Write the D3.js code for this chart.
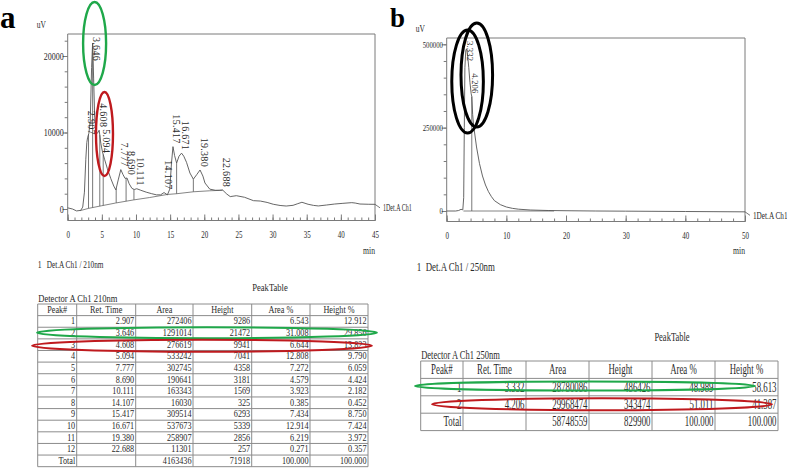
<!DOCTYPE html>
<html>
<head>
<meta charset="utf-8">
<script src="https://cdn.jsdelivr.net/npm/d3@7"></script>
<style>
  body { margin: 0; background: #fff; }
  svg { display: block; background: #fff; }
  text { font-family: "Liberation Serif", "Times New Roman", serif; fill: #2a2a2a; }
</style>
</head>
<body>
<svg id="fig" width="787" height="469"></svg>
<script>
// ---------- panel a : Det.A Ch1 / 210nm ----------
// chromatogram, [min, uV]
const traceA = [
  [0, 150], [0.7, 0], [1.3, -250], [1.9, -180], [2.2, 250], [2.45, 2200], [2.65, 6500],
  [2.8, 8700], [2.907, 9300], [3.1, 9900], [3.3, 11500], [3.5, 18500], [3.646, 21700],
  [3.8, 17000], [3.95, 12000], [4.15, 10000], [4.35, 9900], [4.608, 10300], [4.85, 8600],
  [5.094, 7450], [5.4, 6500], [5.8, 5300], [6.3, 4000], [6.75, 3000], [7.05, 2500],
  [7.4, 3800], [7.777, 5150], [8.1, 4500], [8.4, 4000], [8.69, 4050], [9.0, 3300],
  [9.4, 2700], [9.75, 2550], [10.111, 2650], [10.7, 2450], [11.5, 2200], [12.3, 2000],
  [13.0, 1850], [13.6, 1850], [14.107, 2150], [14.6, 1850], [14.95, 2600], [15.2, 6000],
  [15.417, 8150], [15.65, 7000], [15.95, 6000], [16.3, 6900], [16.671, 7300], [17.0, 6900],
  [17.4, 6100], [17.9, 4700], [18.4, 3900], [18.9, 4500], [19.38, 5100], [19.8, 4300],
  [20.1, 3400], [20.8, 2600], [21.6, 2450], [22.2, 2450], [22.688, 2480], [23.3, 1950],
  [23.8, 1620], [24.7, 1740], [25.9, 1530], [27.2, 1090], [28.2, 1040], [29.2, 860],
  [30.1, 620], [31.1, 460], [32.0, 390], [33.0, 480], [33.7, 700], [34.3, 880], [35.2, 620],
  [36.0, 470], [36.7, 400], [37.9, 520], [39.1, 650], [40.3, 740], [41.6, 830], [42.1, 780],
  [42.8, 650], [44.0, 620], [45, 610]
];
// integration baseline under the peaks
const baselineA = [
  [1.8, -220], [3.05, 80], [5, 430], [7, 780], [9.6, 1180], [12, 1500],
  [14.6, 1900], [16, 2000], [18.4, 2250], [20.8, 2380], [22.7, 2450]
];
const dropTimesA = [3.05, 3.65, 4.7, 5.2, 7.1, 8.55, 9.7, 14.6, 15.95, 18.4];
const yTicksA = [0, 10000, 20000];
const xTicksA = [0, 5, 10, 15, 20, 25, 30, 35, 40, 45];

// peak table a
const peakNoA = [1, 2, 3, 4, 5, 6, 7, 8, 9, 10, 11, 12];
const retTimeA = [2.907, 3.646, 4.608, 5.094, 7.777, 8.690, 10.111, 14.107, 15.417, 16.671, 19.380, 22.688];
const areaA = [272406, 1291014, 276619, 533242, 302745, 190641, 163343, 16030, 309514, 537673, 258907, 11301];
const heightA = [9286, 21472, 9941, 7041, 4358, 3181, 1569, 325, 6293, 5339, 2856, 257];
const areaPctA = [6.543, 31.008, 6.644, 12.808, 7.272, 4.579, 3.923, 0.385, 7.434, 12.914, 6.219, 0.271];
const heightPctA = [12.912, 29.856, 13.823, 9.790, 6.059, 4.424, 2.182, 0.452, 8.750, 7.424, 3.972, 0.357];
const totalAreaA = 4163436, totalHeightA = 71918;

// ---------- panel b : Det.A Ch1 / 250nm ----------
const traceB = [
  [0, 0], [1.5, 0], [2.0, 1500], [2.4, 5000], [2.7, 3500], [2.85, 40000], [2.95, 250000],
  [3.05, 430000], [3.2, 482000], [3.332, 486426], [3.5, 468000], [3.7, 430000], [3.9, 385000],
  [4.1, 352000], [4.206, 343474], [4.35, 290000], [4.5, 258000], [5.0, 192000], [5.5, 142000],
  [6.0, 105000], [6.5, 78000], [7.0, 58000], [7.5, 43000], [8.0, 31000], [9.0, 19000],
  [10.0, 12000], [11.0, 8000], [12.0, 5500], [14.0, 3000], [17.0, 1500], [20.0, 800],
  [25.0, 0], [30.0, -500], [40.0, -1500], [50.0, -2500]
];
const baselineB = [[2.8, 0], [18, 0]];
const dropTimesB = [4.206];
const yTicksB = [0, 250000, 500000];
const xTicksB = [0, 10, 20, 30, 40, 50];

// peak table b
const peakNoB = [1, 2];
const retTimeB = [3.332, 4.206];
const areaB = [28780086, 29968474];
const heightB = [486426, 343474];
const areaPctB = [48.989, 51.011];
const heightPctB = [58.613, 41.387];
const totalAreaB = 58748559, totalHeightB = 829900;

const header = ["Peak#", "Ret. Time", "Area", "Height", "Area %", "Height %"];

const svg = d3.select("#fig");
const f3 = d3.format(".3f");
const GRAY = "#7a7a7a";

function valueAt(series, t) {
  const i = d3.bisector(d => d[0]).left(series, t);
  if (i <= 0) return series[0][1];
  if (i >= series.length) return series[series.length - 1][1];
  const a = series[i - 1], b = series[i];
  return a[1] + (b[1] - a[1]) * (t - a[0]) / (b[0] - a[0]);
}

// horizontally squeezed serif text, like the instrument printout
function ctext(g, x, y, str, size, sx, anchor) {
  return g.append("text")
      .attr("transform", "translate(" + x + "," + y + ") scale(" + sx + ",1)")
      .attr("text-anchor", anchor || "start")
      .style("font-size", size + "px")
      .text(str);
}

function drawChrom(cfg) {
  const g = svg.append("g");
  const x = d3.scaleLinear().domain([0, cfg.xMax]).range([cfg.left, cfg.right]);
  const y = d3.scaleLinear().domain([0, cfg.yRefVal]).range([cfg.yZero, cfg.yRefPx]);

  // frame
  g.append("path")
      .attr("d", "M" + cfg.left + "," + cfg.axisY + "V" + cfg.top + "H" + cfg.right + "V" + cfg.axisY + "H" + cfg.left)
      .style("fill", "none")
      .style("stroke", GRAY)
      .style("stroke-width", 1);

  // y axis
  const yMax = y.invert(cfg.top);
  const ya = g.append("g").attr("transform", "translate(" + cfg.left + ",0)")
      .call(d3.axisLeft(y).tickValues(cfg.yTicks).tickSize(5).tickPadding(0).tickFormat(d3.format("d")));
  g.append("g").attr("transform", "translate(" + cfg.left + ",0)")
      .call(d3.axisLeft(y).tickValues(d3.range(0, yMax, cfg.yMinor)).tickSize(3).tickFormat(""));

  // x axis, ticks pointing inward
  const xa = g.append("g").attr("transform", "translate(0," + cfg.axisY + ")")
      .call(d3.axisBottom(x).tickValues(cfg.xTicks).tickSizeInner(-6).tickSizeOuter(0).tickPadding(10));
  g.append("g").attr("transform", "translate(0," + cfg.axisY + ")")
      .call(d3.axisBottom(x).tickValues(d3.range(0, cfg.xMax + 0.01, cfg.xMinor)).tickSizeInner(-3).tickSizeOuter(0).tickFormat(""));

  g.selectAll(".domain").remove();
  g.selectAll(".tick line").style("stroke", GRAY);
  g.selectAll("g").attr("font-size", null).attr("font-family", null);
  ya.selectAll("text").attr("transform", "scale(" + cfg.yLabelSx + ",1)").style("font-size", cfg.tickSize + "px");
  xa.selectAll("text").attr("transform", "scale(0.7,1)").style("font-size", "10px");

  // trace and integration baseline
  const line = d3.line().x(d => x(d[0])).y(d => y(d[1]));
  g.append("path").datum(cfg.baseline).attr("d", line)
      .style("fill", "none").style("stroke", "#666").style("stroke-width", 0.8);
  g.append("path").datum(cfg.trace).attr("d", line)
      .style("fill", "none").style("stroke", "#555").style("stroke-width", 0.9);

  // drop lines
  cfg.drops.forEach(function(t) {
    g.append("line")
        .attr("x1", x(t)).attr("x2", x(t))
        .attr("y1", y(valueAt(cfg.baseline, t))).attr("y2", y(valueAt(cfg.trace, t)))
        .style("stroke", "#555").style("stroke-width", 0.8);
  });

  // rotated retention-time labels over each apex
  let prev = null;
  cfg.peaks.forEach(function(t) {
    const px = x(t), py = y(valueAt(cfg.trace, t));
    const lab = g.append("text")
        .style("font-size", cfg.labelSize + "px")
        .style("letter-spacing", cfg.labelSpacing + "px")
        .text(f3(t));
    const len = lab.node().getComputedTextLength();
    let start = py - 3 - len;
    if (start < cfg.top + 3) start = cfg.top + 3;
    if (prev && Math.abs(px - prev.x) < 5 && start < prev.end + 2) start = prev.end + 2;
    lab.attr("transform", "translate(" + (px + 0.5) + "," + start + ") rotate(90)");
    prev = {x: px, end: start + len};
  });

  // trace leaving the frame + channel name
  const yEnd = y(cfg.trace[cfg.trace.length - 1][1]);
  g.append("line")
      .attr("x1", cfg.right).attr("y1", yEnd)
      .attr("x2", cfg.right + 5).attr("y2", yEnd + 3.5)
      .style("stroke", "#555").style("stroke-width", 0.8);
  ctext(g, cfg.right + 8, yEnd + 7, "1Det.A Ch1", cfg.chSize, cfg.chSx);

  ctext(g, cfg.left - 31, cfg.top - 6, "uV", 10, 0.75);
  ctext(g, cfg.right, 254, "min", 11, 0.7, "end");
  ctext(g, cfg.left - 30, cfg.detY, "1", cfg.detSize, 0.7);
  ctext(g, cfg.left - 21, cfg.detY, cfg.detector, cfg.detSize, cfg.detSx);

  g.append("text")
      .attr("x", cfg.letterX).attr("y", cfg.letterY)
      .style("font-size", cfg.letterSize + "px")
      .style("font-weight", "bold")
      .style("fill", "#000")
      .text(cfg.letter);

  return {x: x, y: y};
}

function drawTable(cfg) {
  const g = svg.append("g");
  const rows = [cfg.header].concat(cfg.body);
  const n = rows.length;
  const c = cfg.cols;
  const bottom = cfg.top + n * cfg.rowH;

  for (let i = 0; i <= n; i++) {
    const yy = cfg.top + i * cfg.rowH;
    g.append("line").attr("x1", c[0]).attr("x2", c[c.length - 1]).attr("y1", yy).attr("y2", yy)
        .style("stroke", "#8c8c8c").style("stroke-width", 1);
  }
  c.forEach(function(xx) {
    g.append("line").attr("x1", xx).attr("x2", xx).attr("y1", cfg.top).attr("y2", bottom)
        .style("stroke", "#8c8c8c").style("stroke-width", 1);
  });

  rows.forEach(function(r, i) {
    const yy = cfg.top + i * cfg.rowH + cfg.rowH * 0.76;
    r.forEach(function(s, j) {
      if (i === 0) ctext(g, (c[j] + c[j + 1]) / 2, yy, s, cfg.size, cfg.sx, "middle");
      else ctext(g, c[j + 1] - 1.5, yy, s, cfg.size, cfg.sx, "end");
    });
  });

  ctext(g, cfg.titleX, cfg.titleY, "PeakTable", cfg.titleSize, cfg.sx, "middle");
  ctext(g, c[0] + 0.5, cfg.top - 2.5, cfg.detector, cfg.titleSize, cfg.sx);
}

function tableRows(no, rt, area, height, ap, hp, tArea, tHeight) {
  const body = no.map(function(d, i) {
    return [String(d), f3(rt[i]), String(area[i]), String(height[i]), f3(ap[i]), f3(hp[i])];
  });
  body.push(["Total", "", String(tArea), String(tHeight), "100.000", "100.000"]);
  return body;
}

// ---- draw ----
const A = drawChrom({
  left: 67.7, right: 375, top: 34, axisY: 220.5, yZero: 209, yRefPx: 56, yRefVal: 20000,
  xMax: 45, xMinor: 1, yMinor: 2000, xTicks: xTicksA, yTicks: yTicksA,
  trace: traceA, baseline: baselineA, drops: dropTimesA, peaks: retTimeA,
  labelSize: 10, labelSpacing: 0.3, tickSize: 10, yLabelSx: 0.8,
  chSize: 10, chSx: 0.6, detector: "Det.A Ch1 / 210nm", detY: 268, detSize: 11, detSx: 0.66,
  letter: "a", letterX: 0, letterY: 28, letterSize: 31
});

const B = drawChrom({
  left: 446.7, right: 745, top: 38, axisY: 221.5, yZero: 211, yRefPx: 44.3, yRefVal: 500000,
  xMax: 50, xMinor: 2, yMinor: 50000, xTicks: xTicksB, yTicks: yTicksB,
  trace: traceB, baseline: baselineB, drops: dropTimesB, peaks: retTimeB,
  labelSize: 8.5, labelSpacing: 0.2, tickSize: 9, yLabelSx: 0.75,
  chSize: 11, chSx: 0.66, detector: "Det.A Ch1 / 250nm", detY: 271, detSize: 13, detSx: 0.68,
  letter: "b", letterX: 390, letterY: 27, letterSize: 27
});

drawTable({
  cols: [37.7, 76.7, 135.7, 193, 251.7, 310, 368], top: 304, rowH: 11.62,
  header: header, body: tableRows(peakNoA, retTimeA, areaA, heightA, areaPctA, heightPctA, totalAreaA, totalHeightA),
  size: 10.5, sx: 0.78, titleSize: 11, titleX: 270, titleY: 291, detector: "Detector A Ch1 210nm"
});

drawTable({
  cols: [420.7, 463, 526, 589, 652, 715, 778], top: 361, rowH: 17.4,
  header: header, body: tableRows(peakNoB, retTimeB, areaB, heightB, areaPctB, heightPctB, totalAreaB, totalHeightB),
  size: 14, sx: 0.63, titleSize: 13.5, titleX: 672, titleY: 341, detector: "Detector A Ch1 250nm"
});

// ---- hand-drawn highlight rings ----
const GREEN = "#1fa84a", RED = "#bf1a1e";
function ring(cx, cy, rx, ry, color, w) {
  svg.append("ellipse")
      .attr("cx", cx).attr("cy", cy).attr("rx", rx).attr("ry", ry)
      .style("fill", "none").style("stroke", color).style("stroke-width", w);
}
ring(A.x(3.646) + 2, 43.5, 11.5, 41.5, GREEN, 2.4);
ring(A.x(5.094) + 2, 134, 8.5, 42, RED, 2.4);
ring(B.x(3.332) + 1, 81.5, 15.8, 51.5, "#000", 3);
ring(B.x(4.206) + 5, 75, 15.8, 52, "#000", 3);
ring(207, 332.7, 170, 5.5, GREEN, 2);
ring(202, 345.7, 170, 6, RED, 2);
ring(585, 386, 170, 4.5, GREEN, 2);
ring(602, 404.3, 170, 6, RED, 2);
</script>
</body>
</html>
